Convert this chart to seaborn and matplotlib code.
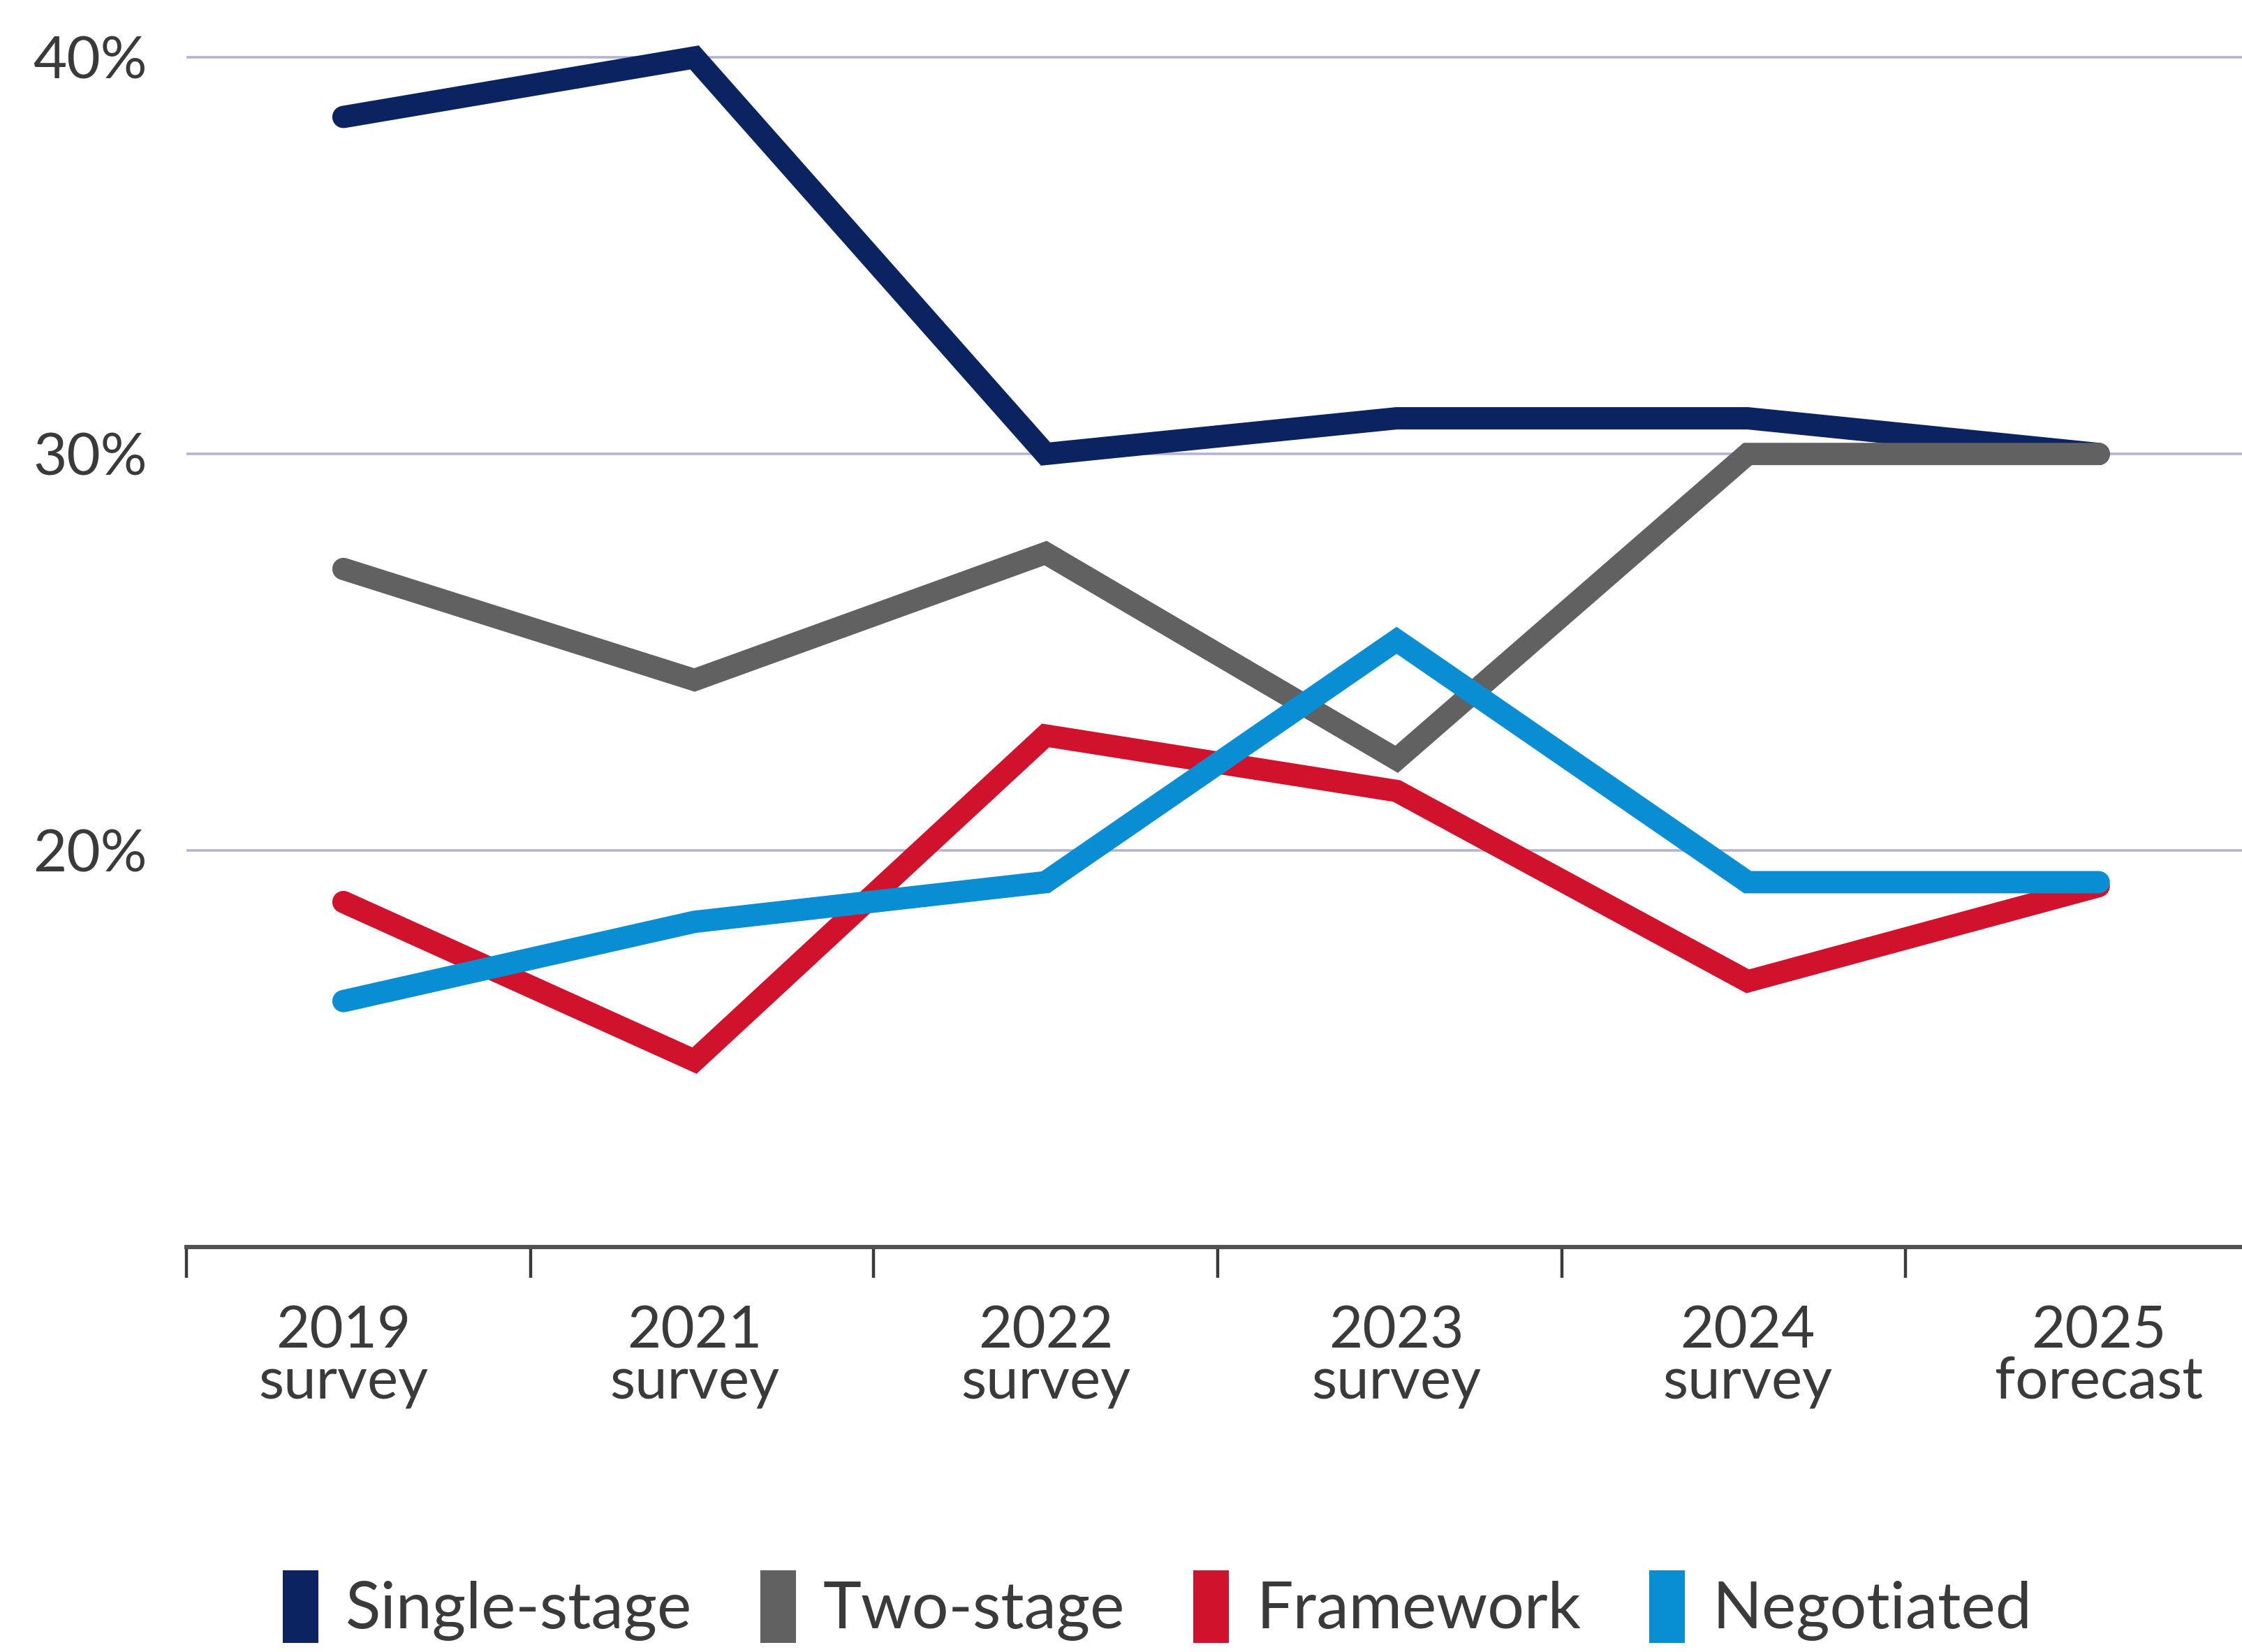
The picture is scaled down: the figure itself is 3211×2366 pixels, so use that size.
import matplotlib
matplotlib.use("Agg")
import matplotlib.pyplot as plt
from matplotlib.patches import Patch
import seaborn as sns
import pandas as pd

# Survey periods (x axis)
periods = ["2019\nsurvey", "2021\nsurvey", "2022\nsurvey", "2023\nsurvey", "2024\nsurvey", "2025\nforecast"]

# Share of procurement route (%)
single_stage = [38.5, 40.0, 30.0, 30.9, 30.9, 30.0]
two_stage = [27.1, 24.3, 27.5, 22.3, 30.0, 30.0]
framework = [18.7, 14.7, 22.9, 21.5, 16.7, 19.1]
negotiated = [16.2, 18.2, 19.2, 25.3, 19.2, 19.2]

series_names = ["Single-stage", "Two-stage", "Framework", "Negotiated"]
series_values = [single_stage, two_stage, framework, negotiated]
colors = ["#0b2360", "#616161", "#d0122c", "#0a8ed3"]

y_ticks = [20, 30, 40]

rows = []
for name, vals in zip(series_names, series_values):
    for p, v in zip(periods, vals):
        rows.append({"period": p, "share": v, "route": name})
df = pd.DataFrame(rows)

sns.set_theme(style="white")
plt.rcParams["font.family"] = ["Lato", "DejaVu Sans"]
text_color = "#3a3a3a"

fig = plt.figure(figsize=(16.06, 11.83), dpi=200)
ax = fig.add_axes([0.083, 0.2452, 0.917, 0.7548])

# grid lines behind the series
for y in y_ticks:
    ax.axhline(y, color="#b4b4d2", lw=1.3, zorder=0)

sns.lineplot(
    data=df, x="period", y="share", hue="route",
    hue_order=series_names, palette=dict(zip(series_names, colors)),
    sort=False, lw=11.5, ax=ax, legend=False,
    solid_capstyle="round", solid_joinstyle="miter",
)

ax.set_xlim(-0.448, 5.41)
ax.set_ylim(10, 41.45)

for s in ["top", "right", "left"]:
    ax.spines[s].set_visible(False)
ax.spines["bottom"].set_color("#505050")
ax.spines["bottom"].set_linewidth(2.2)

ax.set_xticks(range(len(periods)))
ax.set_xticklabels(periods, fontsize=30, color=text_color, linespacing=0.95)
ax.tick_params(axis="x", which="major", length=0, pad=30)
ax.set_xticks([-0.448, 0.533, 1.51, 2.49, 3.47, 4.45], minor=True)
ax.tick_params(axis="x", which="minor", bottom=True, length=16, width=1.6,
               color="#3a3a3a", direction="out")

ax.set_yticks(y_ticks)
ax.set_yticklabels([f"{t}%" for t in y_ticks], fontsize=30, color=text_color)
ax.tick_params(axis="y", length=0, pad=20)

ax.set_xlabel("")
ax.set_ylabel("")

handles = [Patch(facecolor=c, edgecolor="none") for c in colors]
fig.legend(
    handles, series_names, loc="lower center", bbox_to_anchor=(0.516, -0.030),
    ncol=4, frameon=False, fontsize=33.5, labelcolor=text_color,
    handlelength=0.55, handleheight=1.35, handletextpad=0.42, columnspacing=1.05,
)

fig.savefig("out.png", dpi=200, facecolor="white")
